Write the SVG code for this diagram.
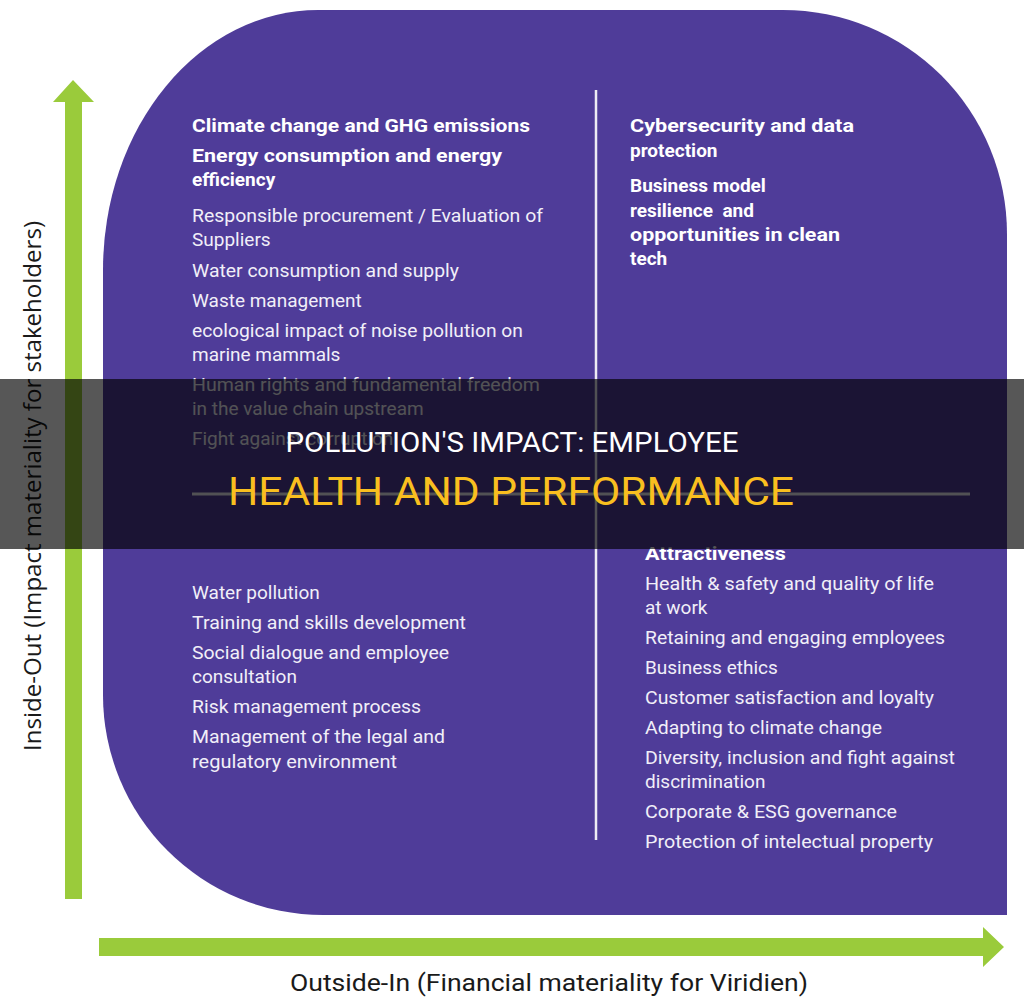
<svg xmlns="http://www.w3.org/2000/svg" width="1024" height="1004" viewBox="0 0 1024 1004">
<style>
.b{font-family:Roboto,"Liberation Sans",sans-serif;font-weight:bold;font-size:19px;fill:#ffffff}
.r{font-family:Roboto,"Liberation Sans",sans-serif;font-size:19px;fill:#f1eff8}
.ax{font-family:"Open Sans","Liberation Sans",sans-serif;font-size:23px;fill:#1a1a1a}
.ax2{font-family:Roboto,"Liberation Sans",sans-serif;font-size:23px;fill:#1a1a1a}
.arrow{fill:#9acb3b}
</style>
<rect width="1024" height="1004" fill="#ffffff"/>
<g id="matrix">
<path d="M318,10 H783 A224,224 0 0 1 1007,234 V915 H323 A220,220 0 0 1 103,695 V270 A215,260 0 0 1 318,10 Z" fill="#4f3c99"/>
</g>
<g id="connectors">
<polygon class="arrow" points="65,899 65,102 53,102 73,80 94,102 82,102 82,899"/>
<polygon class="arrow" points="99,938 983,938 983,927 1004,947 983,967 983,956 99,956"/>
<line x1="596" y1="90" x2="596" y2="840" stroke="#eeecf5" stroke-width="2.5"/>
<line x1="192" y1="494" x2="970" y2="494" stroke="#eeecf5" stroke-width="3"/>
</g>
<g id="axis-y">
<text class="ax" transform="translate(41,486) rotate(-90)" text-anchor="middle" textLength="530" lengthAdjust="spacingAndGlyphs">Inside-Out (Impact materiality for stakeholders)</text>
</g>
<g id="axis-x">
<text class="ax2" x="290" y="991" textLength="518" lengthAdjust="spacingAndGlyphs">Outside-In (Financial materiality for Viridien)</text>
</g>
<g id="q-top-left">
<text class="b" x="192" y="132" textLength="338" lengthAdjust="spacingAndGlyphs">Climate change and GHG emissions</text>
<text class="b" x="192" y="162" textLength="310" lengthAdjust="spacingAndGlyphs">Energy consumption and energy</text>
<text class="b" x="192" y="186">efficiency</text>
<text class="r" x="192" y="222" textLength="351" lengthAdjust="spacingAndGlyphs">Responsible procurement / Evaluation of</text>
<text class="r" x="192" y="246">Suppliers</text>
<text class="r" x="192" y="277" textLength="267" lengthAdjust="spacingAndGlyphs">Water consumption and supply</text>
<text class="r" x="192" y="307">Waste management</text>
<text class="r" x="192" y="337" textLength="331" lengthAdjust="spacingAndGlyphs">ecological impact of noise pollution on</text>
<text class="r" x="192" y="361">marine mammals</text>
<text class="r" x="192" y="391" textLength="348" lengthAdjust="spacingAndGlyphs">Human rights and fundamental freedom</text>
<text class="r" x="192" y="415">in the value chain upstream</text>
<text class="r" x="192" y="445">Fight against corruption</text>
</g>
<g id="q-top-right">
<text class="b" x="630" y="132" textLength="224" lengthAdjust="spacingAndGlyphs">Cybersecurity and data</text>
<text class="b" x="630" y="157">protection</text>
<text class="b" x="630" y="192">Business model</text>
<text class="b" x="630" y="217" style="white-space:pre">resilience  and</text>
<text class="b" x="630" y="241" textLength="210" lengthAdjust="spacingAndGlyphs">opportunities in clean</text>
<text class="b" x="630" y="265">tech</text>
</g>
<g id="q-bottom-left">
<text class="r" x="192" y="599">Water pollution</text>
<text class="r" x="192" y="629" textLength="274" lengthAdjust="spacingAndGlyphs">Training and skills development</text>
<text class="r" x="192" y="659" textLength="257" lengthAdjust="spacingAndGlyphs">Social dialogue and employee</text>
<text class="r" x="192" y="683">consultation</text>
<text class="r" x="192" y="713" textLength="229" lengthAdjust="spacingAndGlyphs">Risk management process</text>
<text class="r" x="192" y="743" textLength="253" lengthAdjust="spacingAndGlyphs">Management of the legal and</text>
<text class="r" x="192" y="768" textLength="205" lengthAdjust="spacingAndGlyphs">regulatory environment</text>
</g>
<g id="q-bottom-right">
<text class="b" x="645" y="560" textLength="141" lengthAdjust="spacingAndGlyphs">Attractiveness</text>
<text class="r" x="645" y="590" textLength="289" lengthAdjust="spacingAndGlyphs">Health &amp; safety and quality of life</text>
<text class="r" x="645" y="614">at work</text>
<text class="r" x="645" y="644" textLength="300" lengthAdjust="spacingAndGlyphs">Retaining and engaging employees</text>
<text class="r" x="645" y="674">Business ethics</text>
<text class="r" x="645" y="704" textLength="289" lengthAdjust="spacingAndGlyphs">Customer satisfaction and loyalty</text>
<text class="r" x="645" y="734" textLength="237" lengthAdjust="spacingAndGlyphs">Adapting to climate change</text>
<text class="r" x="645" y="764" textLength="310" lengthAdjust="spacingAndGlyphs">Diversity, inclusion and fight against</text>
<text class="r" x="645" y="788">discrimination</text>
<text class="r" x="645" y="818" textLength="252" lengthAdjust="spacingAndGlyphs">Corporate &amp; ESG governance</text>
<text class="r" x="645" y="848" textLength="288" lengthAdjust="spacingAndGlyphs">Protection of intelectual property</text>
</g>
<g id="title-band">
<rect x="0" y="379" width="1024" height="170" fill="#000000" fill-opacity="0.66"/>
<text x="512" y="452" text-anchor="middle" font-family="Roboto,'Liberation Sans',sans-serif" font-size="27" fill="#ffffff" textLength="453" lengthAdjust="spacingAndGlyphs">POLLUTION'S IMPACT: EMPLOYEE</text>
<text x="511" y="505" text-anchor="middle" font-family="Roboto,'Liberation Sans',sans-serif" font-size="39" fill="#f9bf1f" textLength="566" lengthAdjust="spacingAndGlyphs">HEALTH AND PERFORMANCE</text>
</g>
</svg>
